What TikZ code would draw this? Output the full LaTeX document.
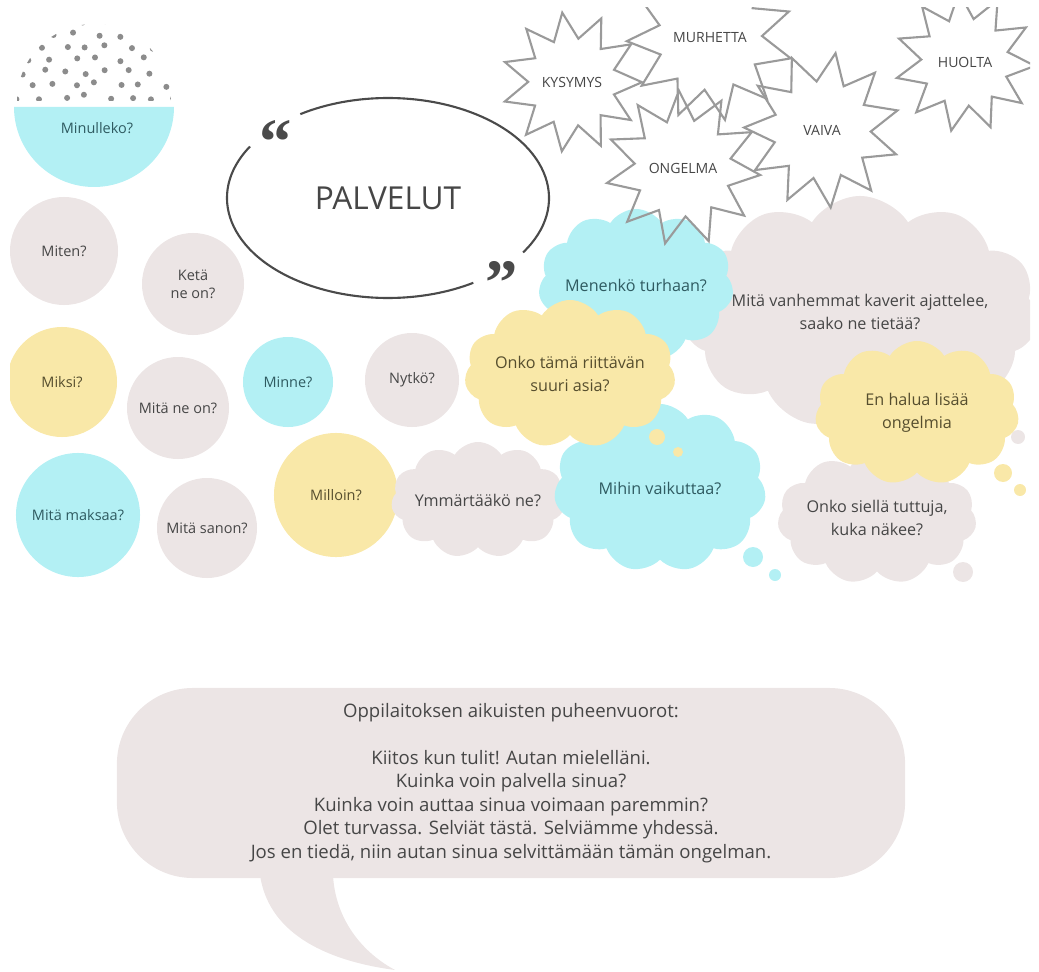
\documentclass[tikz,border=0pt]{standalone}
\usepackage{fontspec}
\setmainfont{Open Sans}
\newfontfamily\quotefont{Liberation Serif}
\usetikzlibrary{shapes.geometric,shapes.symbols}
\definecolor{bubcyan}{HTML}{B3F0F4}
\definecolor{bubyellow}{HTML}{F9E8A8}
\definecolor{bubgray}{HTML}{ECE5E5}
\definecolor{dotgray}{HTML}{8C8C8C}
\definecolor{inkgray}{HTML}{464646}
\definecolor{inkteal}{HTML}{2F5B61}
\definecolor{inkolive}{HTML}{564E2E}
\definecolor{starline}{HTML}{9A9A9A}
\definecolor{ovalline}{HTML}{4A4A4A}

\begin{document}
\begin{tikzpicture}[x=0.025cm, y=0.025cm,
  circbase/.style={circle, inner sep=0pt, align=center, font=\fontsize{10.3}{13}\selectfont},
  graycirc/.style={circbase, fill=bubgray, text=inkgray},
  cyancirc/.style={circbase, fill=bubcyan, text=inkteal},
  yellowcirc/.style={circbase, fill=bubyellow, text=inkolive},
  cloudbase/.style={cloud, cloud puffs=11, cloud puff arc=115, cloud ignores aspect, inner sep=0pt, align=center, font=\fontsize{11.5}{16.5}\selectfont},
  graycloud/.style={cloudbase, fill=bubgray, text=inkgray},
  cyancloud/.style={cloudbase, fill=bubcyan, text=inkteal},
  yellowcloud/.style={cloudbase, fill=bubyellow, text=inkolive},
  burst/.style={star, star points=11, star point ratio=1.6, draw=starline, line width=1.5pt, inner sep=0pt, minimum size=3.5cm, font=\fontsize{10}{12}\selectfont, text=inkgray},
  quotemark/.style={inner sep=0pt, text=ovalline, font=\quotefont\fontsize{46}{46}\selectfont\bfseries},
  speechbox/.style={rectangle, rounded corners=1.9cm, fill=bubgray, text=inkgray, align=center, minimum width=19.7cm, minimum height=4.75cm, font=\fontsize{13.2}{16.7}\selectfont}
]
\useasboundingbox (0,0) rectangle (1039,-972);

\begin{scope}
\clip (10,-8) rectangle (1030,-583);

\fill[bubcyan] (14,-107) arc[start angle=180, end angle=360, radius=80] -- cycle;
\begin{scope}
\clip (17,-101) arc[start angle=180, end angle=0, radius=77] -- cycle;
\pgfmathsetseed{5}
\foreach \row in {0,...,6} {
  \foreach \col in {0,...,7} {
    \fill[dotgray] ({20+\col*22+mod(\row,2)*11+rand*4}, {-97+\row*12.5+rand*2.5}) circle (3);
  }
}
\end{scope}
\node[text=inkteal, font=\fontsize{10.3}{13}\selectfont] (minulleko) at (97,-128) {Minulleko?};

\draw[ovalline, line width=1.5pt] (388,-198) ++(149:161 and 100) arc[start angle=149, end angle=302, x radius=161, y radius=100];
\draw[ovalline, line width=1.5pt] (388,-198) ++(-33:161 and 100) arc[start angle=-33, end angle=123, x radius=161, y radius=100];
\node[text=inkgray, font=\fontsize{22.5}{26}\selectfont] (palvelut) at (388,-198) {PALVELUT};
\node[quotemark] (qopen) at (276,-142) {“};
\node[quotemark] (qclose) at (502,-283) {”};

\node[graycirc, minimum size=2.7cm] (miten) at (64,-251) {Miten?};
\node[graycirc, minimum size=2.55cm] (keta) at (193,-284) {Ketä\\ne on?};
\node[yellowcirc, minimum size=2.75cm] (miksi) at (62,-382) {Miksi?};
\node[graycirc, minimum size=2.55cm] (mitaneon) at (178,-408) {Mitä ne on?};
\node[cyancirc, minimum size=2.25cm] (minne) at (288,-382) {Minne?};
\node[graycirc, minimum size=2.35cm] (nytko) at (412,-380) {Nytkö?};
\node[cyancirc, minimum size=3.1cm] (mitamaksaa) at (78,-515) {Mitä maksaa?};
\node[graycirc, minimum size=2.5cm] (mitasanon) at (207,-528) {Mitä sanon?};
\node[yellowcirc, minimum size=3.1cm] (milloin) at (336,-495) {Milloin?};

\node[graycloud, minimum width=7.8cm, minimum height=5.8cm] (vanhemmat) at (860,-312) {Mitä vanhemmat kaverit ajattelee,\\saako ne tietää?};
\node[graycloud, minimum width=4.9cm, minimum height=3.3cm] (siella) at (877,-518) {Onko siellä tuttuja,\\kuka näkee?};
\node[graycloud, minimum width=4.2cm, minimum height=2.9cm] (ymmar) at (478,-500) {Ymmärtääkö ne?};
\node[cyancloud, minimum width=4.8cm, minimum height=3.8cm] (menenko) at (636,-285) {Menenkö turhaan?};
\node[cyancloud, minimum width=5.3cm, minimum height=4.2cm] (mihin) at (660,-488) {Mihin vaikuttaa?};
\node[yellowcloud, minimum width=5.1cm, minimum height=3.7cm] (onko) at (570,-374) {Onko tämä riittävän\\suuri asia?};
\node[yellowcloud, minimum width=5.1cm, minimum height=3.6cm] (enhalua) at (917,-413) {En halua lisää\\ongelmia};

\fill[bubyellow] (657,-437) circle (8) (678,-452) circle (5);
\fill[bubcyan] (753,-557) circle (10) (775,-575) circle (6);
\fill[bubyellow] (1003,-473) circle (9) (1020,-490) circle (6);
\fill[bubgray] (1018,-437) circle (7) (963,-572) circle (10);

\node[burst, shape border rotate=8] (kysymys) at (572,-82) {KYSYMYS};
\node[burst, shape border rotate=-6] (murhetta) at (710,-38) {MURHETTA};
\node[burst, shape border rotate=3] (ongelma) at (683,-168) {ONGELMA};
\node[burst, shape border rotate=-10, minimum size=3.9cm] (vaiva) at (822,-130) {VAIVA};
\node[burst, shape border rotate=5] (huolta) at (965,-62) {HUOLTA};
\end{scope}

\node[speechbox] (adults) at (511,-783) {Oppilaitoksen aikuisten puheenvuorot:\\[16.7pt]Kiitos kun tulit! Autan mielelläni.\\Kuinka voin palvella sinua?\\Kuinka voin auttaa sinua voimaan paremmin?\\Olet turvassa. Selviät tästä. Selviämme yhdessä.\\Jos en tiedä, niin autan sinua selvittämään tämän ongelman.};
\fill[bubgray] (260,-875) .. controls (268,-930) and (320,-960) .. (395,-970) .. controls (358,-950) and (335,-915) .. (333,-875) -- cycle;
\end{tikzpicture}
\end{document}
